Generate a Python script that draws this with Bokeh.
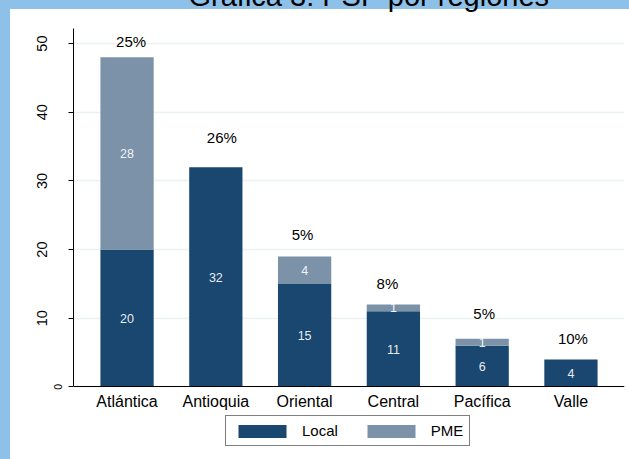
from bokeh.core.properties import value
from bokeh.embed import file_html
from bokeh.models import (ColumnDataSource, FactorRange, FixedTicker, Legend,
                          LegendItem, LinearAxis, Range1d, Title)
from bokeh.plotting import figure
from bokeh.resources import INLINE

# PSP counts by region, split into local and PME
regions = ["Atlántica", "Antioquia", "Oriental", "Central", "Pacífica", "Valle"]
local = [20, 32, 15, 11, 6, 4]
pme = [28, 0, 4, 1, 1, 0]
shares = ["25%", "26%", "5%", "8%", "5%", "10%"]

# where the share labels sit (data height, horizontal nudge in px)
share_y = [50.25, 36.26, 22.14, 15.05, 10.67, 7.04]
share_dx = [4, 6, -2, -6, 2, 2]

y_ticks = [0, 10, 20, 30, 40, 50]
Y_TOP = 52.2
Y_FLOOR = -10.72   # room under the baseline for category names and legend

FONT = "Liberation Sans"
NAVY = "#1a476f"
SLATE = "#7b92a8"
FRAME_BLUE = "#8ec1ea"
GRID = "#eaf2f3"

# the canvas starts SHIFT px above the page so only the foot of the title shows
SHIFT = 40

src = ColumnDataSource(dict(region=regions, Local=local, PME=pme))

p = figure(
    frame_width=551, frame_height=432,
    x_range=FactorRange(factors=regions, range_padding=0.0344),
    y_range=Range1d(Y_FLOOR, Y_TOP),
    output_backend="svg", toolbar_location=None,
    min_border_left=73, min_border_right=5,
    min_border_top=67, min_border_bottom=0,
)
p.border_fill_alpha = 0
p.background_fill_color = "white"
p.outline_line_color = None
p.styles = {
    "margin-top": f"-{SHIFT}px",
    "background": (
        f"linear-gradient(to right, {FRAME_BLUE} 10px, rgba(0,0,0,0) 10px), "
        f"linear-gradient(to bottom, {FRAME_BLUE} {SHIFT + 9}px, white {SHIFT + 9}px)"
    ),
}

p.title = Title(text="Gráfica 3: PSP por regiones", align="left", offset=115,
                standoff=34, text_font=FONT, text_font_size="29px",
                text_font_style="normal", text_color="black")

bars = p.vbar_stack(["Local", "PME"], x="region", width=0.6,
                    color=[NAVY, SLATE], line_alpha=0, source=src)

# grid
p.xgrid.grid_line_color = None
p.ygrid.grid_line_color = GRID
p.ygrid.grid_line_width = 1.5
p.ygrid.ticker = FixedTicker(ticks=y_ticks)

# inner value axis: line, ticks and the small zero
inner = p.yaxis[0]
inner.bounds = (0, Y_TOP)
inner.ticker = FixedTicker(ticks=y_ticks)
inner.major_label_overrides = {t: "" for t in y_ticks if t != 0}
inner.major_label_orientation = "vertical"
inner.major_label_standoff = 6
inner.major_label_text_font = FONT
inner.major_label_text_font_size = "10.5px"
inner.major_label_text_color = "black"
inner.major_tick_out = 5
inner.major_tick_in = 0
inner.minor_tick_line_color = None
inner.axis_line_color = "black"
inner.major_tick_line_color = "black"

# outer value axis: the remaining tick labels
outer = LinearAxis(ticker=FixedTicker(ticks=y_ticks[1:]))
outer.axis_line_color = None
outer.major_tick_line_color = None
outer.minor_tick_line_color = None
outer.major_tick_out = 0
outer.major_tick_in = 0
outer.major_label_orientation = "vertical"
outer.major_label_standoff = 4
outer.major_label_text_font = FONT
outer.major_label_text_font_size = "14.5px"
outer.major_label_text_color = "black"
p.add_layout(outer, "left")

# category axis drawn along the zero line
p.xaxis.fixed_location = 0
p.xaxis.major_tick_line_color = None
p.xaxis.minor_tick_line_color = None
p.xaxis.major_tick_out = 0
p.xaxis.major_tick_in = 0
p.xaxis.axis_line_color = "black"
p.xaxis.major_label_standoff = 6
p.xaxis.major_label_text_font = FONT
p.xaxis.major_label_text_font_size = "16px"
p.xaxis.major_label_text_color = "black"

# values inside the segments
local_lbl = ColumnDataSource(dict(
    x=regions, y=[v / 2 for v in local], t=[str(v) for v in local]))
pme_rows = [(r, l, m) for r, l, m in zip(regions, local, pme) if m > 0]
pme_lbl = ColumnDataSource(dict(
    x=[r for r, _, _ in pme_rows],
    y=[l + m / 2 for _, l, m in pme_rows],
    t=[str(m) for _, _, m in pme_rows]))
for s in (local_lbl, pme_lbl):
    p.text(x="x", y="y", text="t", source=s, text_align="center",
           text_baseline="middle", text_color="white", text_alpha=0.92,
           text_font=value(FONT), text_font_size="12.5px")

# share of each region above its bar
share_src = ColumnDataSource(dict(x=regions, y=share_y, t=shares, dx=share_dx))
p.text(x="x", y="y", text="t", x_offset="dx", source=share_src,
       text_align="center", text_baseline="middle", text_color="black",
       text_font=value(FONT), text_font_size="15px")

legend = Legend(
    items=[LegendItem(label="Local", renderers=[bars[0]]),
           LegendItem(label="PME", renderers=[bars[1]])],
    orientation="horizontal", location=(152, 14),
    glyph_width=60, glyph_height=16, label_standoff=10, spacing=23,
    padding=6, margin=0,
    border_line_color="black", border_line_width=1,
    label_text_font=FONT, label_text_font_size="15px",
    label_text_color="black", background_fill_color="white",
)
p.add_layout(legend)

open("out.html", "w").write(file_html(p, INLINE))
